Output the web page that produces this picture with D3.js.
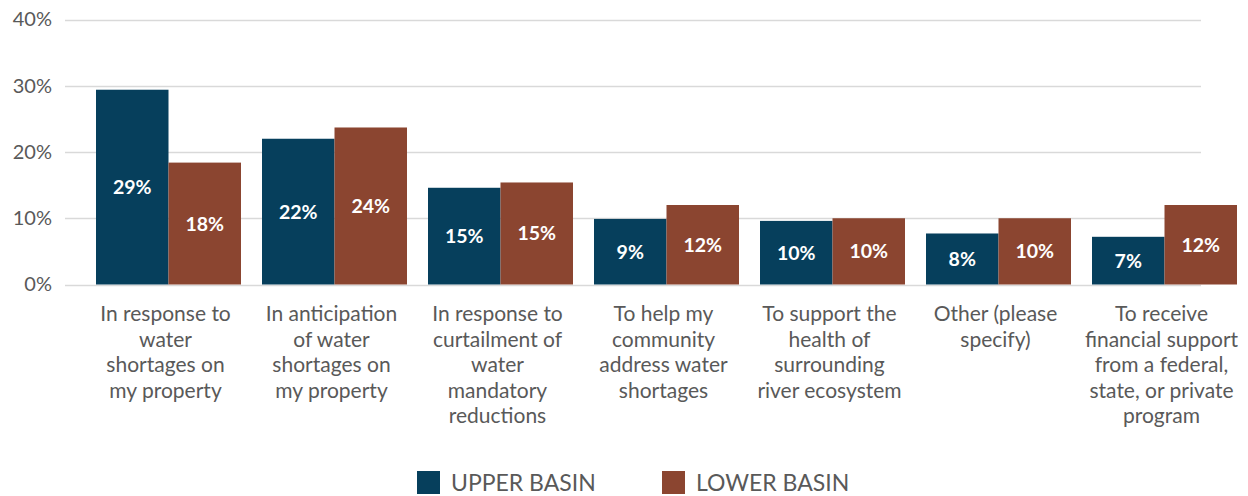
<!DOCTYPE html>
<html><head><meta charset="utf-8">
<script src="https://cdn.jsdelivr.net/npm/d3@7"></script>
<style>
html,body{margin:0;padding:0;background:#fff;}
svg{display:block;font-family:Lato,"Noto Sans",sans-serif;}
</style></head>
<body><svg id="chart" width="1248" height="496"></svg>
<script>
const categories = [
  "In response to\nwater\nshortages on\nmy property",
  "In anticipation\nof water\nshortages on\nmy property",
  "In response to\ncurtailment of\nwater\nmandatory\nreductions",
  "To help my\ncommunity\naddress water\nshortages",
  "To support the\nhealth of\nsurrounding\nriver ecosystem",
  "Other (please\nspecify)",
  "To receive\nfinancial support\nfrom a federal,\nstate, or private\nprogram"
];
const seriesNames = ["UPPER BASIN", "LOWER BASIN"];
const upperValues = [29.4, 22.0, 14.6, 9.9, 9.6, 7.7, 7.2];
const lowerValues = [18.4, 23.7, 15.4, 12.0, 10.0, 10.0, 12.0];
const upperLabels = ["29%", "22%", "15%", "9%", "10%", "8%", "7%"];
const lowerLabels = ["18%", "24%", "15%", "12%", "10%", "10%", "12%"];
const yTicks = [0, 10, 20, 30, 40];
const colors = ["#063f5c", "#8b4530"];

const svg = d3.select("#chart");
const y = d3.scaleLinear().domain([0, 40]).range([284.5, 19.5]);
const x = d3.scaleBand().domain(d3.range(categories.length)).range([85.5, 1247.5]).paddingInner(0).paddingOuter(0);
const step = x.step();
const groupW = 145;
const xs = d3.scaleBand().domain([0,1]).range([0, groupW]);

// gridlines
svg.append("g").selectAll("line").data(yTicks).join("line")
  .attr("x1", 65).attr("x2", 1201)
  .attr("y1", d => Math.round(y(d)) + 0.5).attr("y2", d => Math.round(y(d)) + 0.5)
  .attr("stroke", "#d9d9d9").attr("stroke-width", 1.5);

// y tick labels
const yAxis = d3.axisLeft(y).tickValues(yTicks).tickFormat(d => d + "%").tickSize(0).tickPadding(0);
const ya = svg.append("g").attr("transform", "translate(52,0)").call(yAxis);
ya.select(".domain").remove();
ya.selectAll("text").attr("fill", "#595959").style("font-size", "20px").style("font-family", "Lato,'Noto Sans',sans-serif");

const series = [upperValues, lowerValues];
const labels = [upperLabels, lowerLabels];
const groupStart = i => x(i) + (step - groupW) / 2;

series.forEach((vals, s) => {
  const g = svg.append("g");
  g.selectAll("rect").data(vals).join("rect")
    .attr("x", (d, i) => groupStart(i) + xs(s))
    .attr("width", xs.bandwidth())
    .attr("y", d => y(d))
    .attr("height", d => y(0) - y(d))
    .attr("fill", colors[s]);
  g.selectAll("text").data(vals).join("text")
    .attr("x", (d, i) => groupStart(i) + xs(s) + xs.bandwidth() / 2)
    .attr("y", d => (y(d) + y(0)) / 2 + 7)
    .attr("text-anchor", "middle")
    .attr("fill", "#fff")
    .style("font-size", "19.5px").style("font-weight", "bold")
    .text((d, i) => labels[s][i]);
});

// category labels
const cg = svg.append("g");
categories.forEach((c, i) => {
  const cx = groupStart(i) + groupW / 2 - 3;
  const t = cg.append("text")
    .attr("x", cx)
    .attr("y", 321)
    .attr("text-anchor", "middle")
    .attr("fill", "#595959")
    .style("font-size", "21px");
  c.split("\n").forEach((line, k) => {
    t.append("tspan").attr("x", cx).attr("dy", k === 0 ? 0 : 25.5).text(line);
  });
});

// legend
const legendX = [417, 662];
const lg = svg.append("g");
seriesNames.forEach((n, s) => {
  lg.append("rect").attr("x", legendX[s]).attr("y", 471).attr("width", 23).attr("height", 23).attr("fill", colors[s]);
  lg.append("text").attr("x", legendX[s] + 34).attr("y", 491).attr("fill", "#595959")
    .style("font-size", "23px").text(n);
});
</script></body></html>
